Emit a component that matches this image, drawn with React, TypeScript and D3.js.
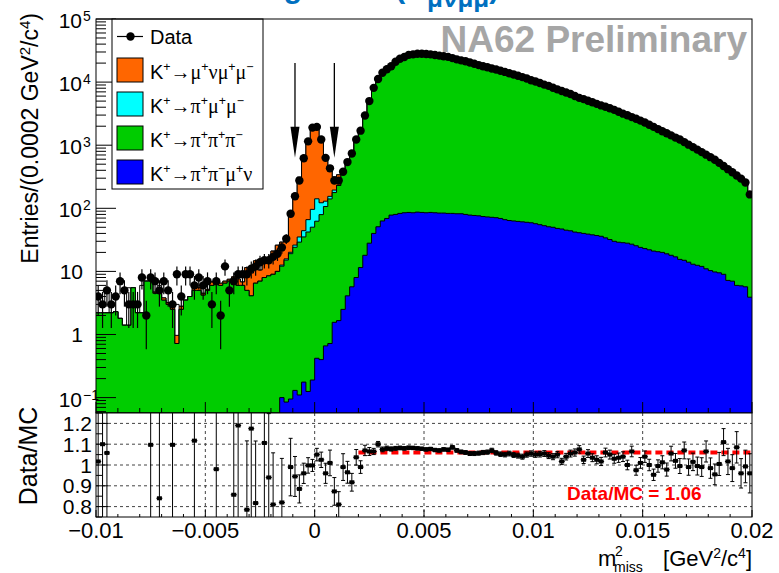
import React from "react";
import * as d3 from "d3";

// ---------------- data ----------------
const X_MIN = -0.01;
const X_MAX = 0.02;
const BIN_W = 0.0002;

const dataCounts = [
  4, 3, 5, 3, 4, 7, 5, 3, 3, 3,
  8, 2, 8, 7, 5, 7, 5, 3, 9, 4,
  9, 9, 6, 8, 6, 7, 3, 7, 2, 12,
  5, 7, 9, 9, 9, 11, 12, 14, 15, 15,
  17, 19, 24, 33, 82, 155, 275, 620, 1150, 1900,
  1950, 1230, 630, 430, 275, 275, 380, 540, 740, 1230,
  1700, 2950, 5000, 8100, 11200, 14100, 16000, 17800, 21000, 23400,
  25000, 27000, 27500, 28200, 28200, 27900, 27500, 26900, 26300, 25700,
  25100, 24000, 22900, 22100, 21400, 20400, 19500, 18600, 17800, 17200,
  16400, 15800, 15100, 14500, 13800, 13200, 12600, 12000, 11400, 10700,
  10200, 9660, 9120, 8710, 8130, 7670, 7240, 6840, 6460, 6030,
  5620, 5370, 5070, 4790, 4520, 4270, 4070, 3850, 3630, 3390,
  3160, 2990, 2790, 2630, 2450, 2290, 2110, 1950, 1800, 1660,
  1550, 1430, 1320, 1230, 1120, 1020, 933, 851, 776, 708,
  646, 589, 525, 468, 417, 372, 331, 295, 257, 166,
];

const ratioVals: (number | null)[] = [
  1.017, 1.1, 1.058, null, null, null, null, null, null, null,
  null, null, 1.097, null, 0.84, null, null, 1.097, null, null,
  null, null, 1.117, null, null, null, null, 0.98, null, null,
  null, 0.857, 1.19, null, 0.785, 1.175, 0.817, null, 1.106, 0.94,
  0.81, null, 0.82, null, 0.99, 0.945, 0.885, 0.96, 0.998, 0.998,
  1.05, 1.025, 0.96, 1.01, 0.873, 0.81, 0.99, 0.965, 0.917, 1.037,
  0.99, 1.07, 1.065, 1.065, 1.1, 1.075, 1.08, 1.077, 1.08, 1.082,
  1.08, 1.083, 1.082, 1.08, 1.078, 1.075, 1.077, 1.072, 1.07, 1.075,
  1.073, 1.085, 1.07, 1.063, 1.06, 1.055, 1.055, 1.057, 1.06, 1.062,
  1.07, 1.058, 1.052, 1.05, 1.055, 1.048, 1.045, 1.04, 1.05, 1.055,
  1.05, 1.052, 1.055, 1.045, 1.04, 1.05, 1.017, 1.04, 1.055, 1.06,
  1.075, 1.025, 1.055, 1.035, 1.025, 1.017, 1.06, 1.05, 1.03, 1.035,
  1.04, 1.0, 1.065, 0.975, 1.01, 1.04, 1.0, 0.953, 0.995, 1.013,
  0.978, 1.055, 1.02, 0.995, 1.07, 0.99, 1.015, 0.995, 0.99, 1.065,
  0.985, 0.955, 1.005, 1.11, 1.017, 0.985, 1.085, 0.96, 0.993, 0.96,
];

// K+ -> pi+ pi- mu+ nu
const bluePiPiMuNu = [
  0, 0, 0, 0, 0, 0, 0, 0, 0, 0,
  0, 0, 0, 0, 0, 0, 0, 0, 0, 0,
  0, 0, 0, 0, 0, 0, 0, 0, 0, 0,
  0, 0, 0, 0, 0, 0, 0, 0, 0, 0,
  0, 0, 0.1, 0.085, 0.095, 0.13, 0.11, 0.176, 0.125, 0.19,
  0.42, 0.4, 0.66, 0.72, 1.56, 1.66, 2.5, 4.1, 5.7, 8,
  11.5, 18, 28, 40, 51, 63, 69, 78, 80, 83,
  85, 86, 85, 87, 86, 85, 86, 85, 84, 84,
  83, 83, 82, 82, 80, 78, 77, 76, 74, 73,
  72, 71, 69, 66, 64, 63, 62, 61, 60, 59,
  57, 55, 53, 51, 50, 48, 47, 45, 44, 42,
  41, 40, 39, 38, 37, 36, 34, 32, 30, 29,
  28.5, 28, 27, 25.5, 24, 23, 22, 21, 20.5, 20,
  19, 18, 17, 15.5, 15, 14, 13, 12.5, 12, 11,
  10.3, 9.8, 9.5, 9, 7.2, 7, 6, 5.9, 5.7, 3.9,
];

// K+ -> pi+ pi+ pi-
const greenPiPiPi = [
  2.2, 2.2, 2.2, 2.2, 2.3, 1.8, 1.4, 1.4, 5.5, 2.2,
  2.2, 7, 7, 4.5, 4.5, 3.5, 3, 2.5, 0.72, 2.5,
  3.5, 4, 5, 5, 4.2, 5, 6, 6.5, 6, 6.5,
  7, 7, 6, 6, 5, 4.1, 6.5, 7, 8, 8.5,
  9, 10, 12, 15, 19, 24, 29, 35, 42, 50,
  62, 79, 106, 140, 176, 228, 378, 556, 801, 1178,
  1705, 2739, 4667, 7566, 10131, 13053, 14746, 16449, 19364, 21544,
  23063, 24845, 25331, 26024, 26074, 25868, 25448, 25008, 24495, 23823,
  23309, 22037, 21320, 20708, 20109, 19258, 18406, 17521, 16718, 16123,
  15255, 14863, 14285, 13744, 13017, 12532, 11995, 11477, 10797, 10083,
  9657, 9128, 8592, 8284, 7767, 7257, 7072, 6532, 6079, 5647,
  5187, 5199, 4767, 4590, 4373, 4163, 3806, 3635, 3494, 3246,
  3010, 2962, 2593, 2672, 2402, 2179, 2088, 2025, 1789, 1619,
  1566, 1337, 1277, 1221, 1032, 1016, 906, 843, 772, 654,
  646, 607, 513, 413, 403, 371, 299, 301, 253, 169,
];

// K+ -> pi+ mu+ mu-
const cyanPiMuMu = [
  0, 0, 0, 0, 0, 0, 0, 0, 0, 0,
  0, 0, 0, 0, 0, 0, 0, 0, 0, 0,
  0, 0, 0, 0, 0, 0, 0, 0, 0, 0,
  0, 0, 0, 0, 0, 0, 0, 0, 0, 0,
  0, 0, 0.5, 0.7, 1, 2, 6, 9, 24, 46,
  79, 43, 23, 14, 17, 3, 1, 0, 0, 0,
  0, 0, 0, 0, 0, 0, 0, 0, 0, 0,
  0, 0, 0, 0, 0, 0, 0, 0, 0, 0,
  0, 0, 0, 0, 0, 0, 0, 0, 0, 0,
  0, 0, 0, 0, 0, 0, 0, 0, 0, 0,
  0, 0, 0, 0, 0, 0, 0, 0, 0, 0,
  0, 0, 0, 0, 0, 0, 0, 0, 0, 0,
  0, 0, 0, 0, 0, 0, 0, 0, 0, 0,
  0, 0, 0, 0, 0, 0, 0, 0, 0, 0,
  0, 0, 0, 0, 0, 0, 0, 0, 0, 0,
];

// K+ -> mu+ nu mu+ mu-
const orangeMuNuMuMu = [
  0, 0, 0, 0, 0, 0, 0, 0, 0, 0,
  0, 0, 0, 0.2, 0, 0.3, 0.2, 0.2, 0.25, 0.3,
  0, 0, 0.4, 0.5, 0.3, 0.2, 0.8, 0.6, 0.5, 0.5,
  0.5, 1.2, 1.6, 0.8, 6.5, 5.3, 8.2, 3.5, 5.6, 7.5,
  12, 16, 16.5, 17, 63, 138, 276, 602, 1084, 1804,
  1715, 1077, 526, 271, 120, 107, 0, 0, 0, 0,
  0, 0, 0, 0, 0, 0, 0, 0, 0, 0,
  0, 0, 0, 0, 0, 0, 0, 0, 0, 0,
  0, 0, 0, 0, 0, 0, 0, 0, 0, 0,
  0, 0, 0, 0, 0, 0, 0, 0, 0, 0,
  0, 0, 0, 0, 0, 0, 0, 0, 0, 0,
  0, 0, 0, 0, 0, 0, 0, 0, 0, 0,
  0, 0, 0, 0, 0, 0, 0, 0, 0, 0,
  0, 0, 0, 0, 0, 0, 0, 0, 0, 0,
  0, 0, 0, 0, 0, 0, 0, 0, 0, 0,
];

// other (white-filled) MC contribution
const otherMC = [
  1.7, 0.5, 2.5, 0, 0, 0, 0, 4.1, 0, 0,
  3.8, 0, 0.3, 0, 1.5, 0, 0, 0, 2.03, 0,
  0, 0, 0, 0, 0, 0, 0, 0, 0, 0,
  0, 0, 0, 0, 0, 0, 0, 0, 0, 0,
  0, 0, 0, 0, 0, 0, 0, 0, 0, 0,
  0, 0, 0, 0, 0, 0, 0, 0, 0, 0,
  0, 0, 0, 0, 0, 0, 0, 0, 0, 0,
  0, 0, 0, 0, 0, 0, 0, 0, 0, 0,
  0, 0, 0, 0, 0, 0, 0, 0, 0, 0,
  0, 0, 0, 0, 0, 0, 0, 0, 0, 0,
  0, 0, 0, 0, 0, 0, 0, 0, 0, 0,
  0, 0, 0, 0, 0, 0, 0, 0, 0, 0,
  0, 0, 0, 0, 0, 0, 0, 0, 0, 0,
  0, 0, 0, 0, 0, 0, 0, 0, 0, 0,
  0, 0, 0, 0, 0, 0, 0, 0, 0, 0,
];

const arrowCuts = [-0.0009, 0.0009];
const arrowTop = 20000;
const arrowTip = 630;
const fitValue = 1.06;
const fitRange = [0.002, 0.02];

const xTicks = [-0.01, -0.005, 0, 0.005, 0.01, 0.015, 0.02];
const xTickLabels = ["\u22120.01", "\u22120.005", "0", "0.005", "0.01", "0.015", "0.02"];
const ratioTicks = [0.8, 0.9, 1.0, 1.1, 1.2];
const ratioTickLabels = ["0.8", "0.9", "1", "1.1", "1.2"];

type Seg = [string, "n" | "g" | "sup"];
const legendEntries: { color: string; segs: Seg[] }[] = [
  { color: "#ff6600", segs: [["K", "n"], ["+", "sup"], ["\u2192", "g"], ["\u03bc", "g"], ["+", "sup"], ["\u03bd", "g"], ["\u03bc", "g"], ["+", "sup"], ["\u03bc", "g"], ["\u2212", "sup"]] },
  { color: "#00ffff", segs: [["K", "n"], ["+", "sup"], ["\u2192", "g"], ["\u03c0", "g"], ["+", "sup"], ["\u03bc", "g"], ["+", "sup"], ["\u03bc", "g"], ["\u2212", "sup"]] },
  { color: "#00cc00", segs: [["K", "n"], ["+", "sup"], ["\u2192", "g"], ["\u03c0", "g"], ["+", "sup"], ["\u03c0", "g"], ["+", "sup"], ["\u03c0", "g"], ["\u2212", "sup"]] },
  { color: "#0000ff", segs: [["K", "n"], ["+", "sup"], ["\u2192", "g"], ["\u03c0", "g"], ["+", "sup"], ["\u03c0", "g"], ["\u2212", "sup"], ["\u03bc", "g"], ["+", "sup"], ["\u03bd", "g"]] },
];

// ---------------- layout ----------------
const W = 779;
const H = 573;
const L = 96;
const R = 752;
const T = 19;
const MB = 413;
const RB = 517;
const SANS = "'Liberation Sans', Arial, sans-serif";
const SERIF = "'Liberation Serif', 'Times New Roman', serif";

function RichText({ x, y, segs, size, anchor }: { x: number; y: number; segs: Seg[]; size: number; anchor?: string }) {
  const out: React.ReactNode[] = [];
  let raised = false;
  const up = size * 0.42;
  segs.forEach(([t, k], i) => {
    let dy = 0;
    if (k === "sup" && !raised) { dy = -up; raised = true; }
    else if (k !== "sup" && raised) { dy = up; raised = false; }
    out.push(
      <tspan key={i} dy={dy} fontSize={k === "sup" ? size * 0.62 : size} fontFamily={k === "g" ? SERIF : SANS}>{t}</tspan>
    );
  });
  return <text x={x} y={y} textAnchor={anchor || "start"} fontSize={size} fontFamily={SANS}>{out}</text>;
}

export default function App() {
  const x = d3.scaleLinear().domain([X_MIN, X_MAX]).range([L, R]);
  const yMin = 0.057;
  const y = d3.scaleLog().domain([yMin, 1e5]).range([MB, T]).clamp(true);
  const yr = d3.scaleLinear().domain([0.75, 1.25]).range([RB, MB]);
  const n = dataCounts.length;

  const cum: number[][] = [];
  const comps = [bluePiPiMuNu, greenPiPiPi, cyanPiMuMu, orangeMuNuMuMu, otherMC];
  let run = new Array(n).fill(0);
  comps.forEach((c) => {
    run = run.map((v, i) => v + c[i]);
    cum.push(run.slice());
  });
  const fills = ["#0000ff", "#00cc00", "#00ffff", "#ff6600", "#ffffff"];

  const stepPts = (vals: number[]) => {
    const pts: [number, number][] = [];
    vals.forEach((v, i) => {
      const x0 = x(X_MIN + i * BIN_W);
      const x1 = x(X_MIN + (i + 1) * BIN_W);
      const yy = v > yMin ? y(v) : MB;
      pts.push([x0, yy], [x1, yy]);
    });
    return pts;
  };
  const area = d3.area<[number, number]>().x((d) => d[0]).y0(MB).y1((d) => d[1]);
  const line = d3.line<[number, number]>().x((d) => d[0]).y((d) => d[1]);

  const binC = (i: number) => x(X_MIN + (i + 0.5) * BIN_W);

  // ticks
  const yMajors = [0.1, 1, 10, 100, 1000, 10000, 100000];
  const yMinors: number[] = [];
  for (let e = -2; e <= 4; e++) for (let k = 2; k <= 9; k++) { const v = k * Math.pow(10, e); if (v > yMin && v < 1e5) yMinors.push(v); }
  const xMinorTicks = d3.range(0, 31).map((k) => X_MIN + k * 0.001);
  const ratioMinor = d3.range(0, 11).map((k) => 0.75 + k * 0.05);

  const yLabel = (v: number) => {
    const ty = y(v);
    if (v === 1 || v === 10) {
      return <text key={v} x={83} y={ty + 8} textAnchor="end" fontSize={21} fontFamily={SANS}>{v}</text>;
    }
    const e = Math.round(Math.log10(v));
    const es = e < 0 ? "\u2212" + Math.abs(e) : String(e);
    return (
      <g key={v}>
        <text x={82} y={ty + 9} textAnchor="end" fontSize={21} fontFamily={SANS}>10</text>
        <text x={83} y={ty + 2} textAnchor="start" fontSize={14} fontFamily={SANS}>{es}</text>
      </g>
    );
  };

  return (
    <svg width={W} height={H} style={{ position: "absolute", left: 0, top: 0, background: "#fff" }} xmlns="http://www.w3.org/2000/svg">
      <defs>
        <clipPath id="mainClip"><rect x={L} y={T} width={R - L} height={MB - T} /></clipPath>
        <clipPath id="ratioClip"><rect x={L} y={MB} width={R - L} height={RB - MB} /></clipPath>
      </defs>
      <rect x={0} y={0} width={W} height={H} fill="#fff" />

      {/* cut-off slide title (only its lowest parts fall inside the picture) */}
      <text x={212} y={-2} fontSize={30} fontWeight="bold" fill="#0070c0" fontFamily={SANS}>
        Background (K<tspan fontSize={26} dy={9}>{"\u03bc\u03bd\u03bc\u03bc"}</tspan><tspan dy={-9}>)</tspan>
      </text>

      {/* stacked MC */}
      <g clipPath="url(#mainClip)">
        {[4, 3, 2, 1, 0].map((k) => {
          const pts = stepPts(cum[k]);
          return (
            <g key={k}>
              <path d={area(pts) || ""} fill={fills[k]} />
              <path d={line(pts) || ""} fill="none" stroke="#000" strokeWidth={1} />
            </g>
          );
        })}
        {/* data error bars */}
        {dataCounts.map((c, i) => {
          const e = Math.sqrt(c);
          return <line key={i} x1={binC(i)} x2={binC(i)} y1={y(Math.max(c - e, yMin))} y2={y(c + e)} stroke="#000" strokeWidth={1.2} />;
        })}
        {dataCounts.map((c, i) => (
          <circle key={i} cx={binC(i)} cy={y(c)} r={4.2} fill="#000" />
        ))}
      </g>

      {/* arrows */}
      {arrowCuts.map((m, i) => {
        const ax = x(m);
        const yt = y(arrowTop);
        const yb = y(arrowTip);
        return (
          <g key={i}>
            <line x1={ax} x2={ax} y1={yt} y2={yb - 20} stroke="#000" strokeWidth={1.3} />
            <path d={`M${ax - 4.5},${yb - 31} L${ax + 4.5},${yb - 31} L${ax},${yb} Z`} fill="#000" />
          </g>
        );
      })}

      {/* main axes ticks */}
      {yMajors.map((v) => <line key={"ym" + v} x1={L} x2={L + 20} y1={y(v)} y2={y(v)} stroke="#000" strokeWidth={1} />)}
      {yMinors.map((v) => <line key={"yn" + v} x1={L} x2={L + 10} y1={y(v)} y2={y(v)} stroke="#000" strokeWidth={1} />)}
      {xMinorTicks.map((v, k) => (
        <line key={"xm" + k} x1={x(v)} x2={x(v)} y1={MB} y2={MB - (k % 5 === 0 ? 11 : 5)} stroke="#000" strokeWidth={1} />
      ))}
      {yMajors.map(yLabel)}

      {/* NA62 label */}
      <text x={747} y={52} textAnchor="end" fontSize={37} fontWeight="bold" fill="#a6a6a6" fontFamily={SANS}>NA62 Preliminary</text>

      {/* legend */}
      <rect x={112} y={T} width={151} height={170} fill="#fff" stroke="#000" strokeWidth={1} />
      <line x1={117} x2={143} y1={36.5} y2={36.5} stroke="#000" strokeWidth={1.2} />
      <circle cx={130.5} cy={36.5} r={4.2} fill="#000" />
      <text x={150} y={44} fontSize={20} fontFamily={SANS}>Data</text>
      {legendEntries.map((e, i) => (
        <g key={i}>
          <rect x={117} y={58 + i * 34} width={26} height={24} fill={e.color} stroke="#000" strokeWidth={1} />
          <RichText x={150} y={79 + i * 34} segs={e.segs} size={20} />
        </g>
      ))}

      {/* main frame */}
      <rect x={L} y={T} width={R - L} height={MB - T} fill="none" stroke="#000" strokeWidth={1} />

      {/* y title */}
      <text transform={`translate(38,13) rotate(-90)`} textAnchor="end" fontSize={23} fontFamily={SANS}>
        Entries/(0.0002 GeV<tspan dy={-8} fontSize={15}>2</tspan><tspan dy={8}>/c</tspan><tspan dy={-8} fontSize={15}>4</tspan><tspan dy={8}>)</tspan>
      </text>

      {/* ratio panel */}
      <rect x={L} y={MB} width={R - L} height={RB - MB} fill="#fff" />
      {ratioTicks.map((v) => (
        <line key={"rg" + v} x1={L} x2={R} y1={yr(v)} y2={yr(v)} stroke="#444" strokeWidth={1} strokeDasharray="3,3" />
      ))}
      {[-0.005, 0, 0.005, 0.01, 0.015].map((v) => (
        <line key={"vg" + v} x1={x(v)} x2={x(v)} y1={MB} y2={RB} stroke="#444" strokeWidth={1} strokeDasharray="3,3" />
      ))}
      <line x1={x(fitRange[0])} x2={x(fitRange[1])} y1={yr(fitValue)} y2={yr(fitValue)} stroke="#ff0000" strokeWidth={4} strokeDasharray="7,4" />
      <g clipPath="url(#ratioClip)">
        {ratioVals.map((r, i) => {
          if (r === null || r < 0.75 || r > 1.25) return null;
          const err = r * Math.sqrt(1.6 / dataCounts[i]);
          const cx = binC(i);
          const y1 = yr(r - err);
          const y2 = yr(r + err);
          return (
            <g key={i}>
              <line x1={cx} x2={cx} y1={y1} y2={y2} stroke="#000" strokeWidth={1} />
              <line x1={cx - 2} x2={cx + 2} y1={y1} y2={y1} stroke="#000" strokeWidth={1} />
              <line x1={cx - 2} x2={cx + 2} y1={y2} y2={y2} stroke="#000" strokeWidth={1} />
              <line x1={cx - 3} x2={cx + 3} y1={yr(r)} y2={yr(r)} stroke="#000" strokeWidth={1} />
              <rect x={cx - 2.5} y={yr(r) - 2} width={5} height={4} fill="#000" />
            </g>
          );
        })}
      </g>
      {ratioMinor.map((v, k) => (
        <line key={"rt" + k} x1={L} x2={L + (k % 2 === 1 ? 12 : 6)} y1={yr(v)} y2={yr(v)} stroke="#000" strokeWidth={1} />
      ))}
      {xMinorTicks.map((v, k) => (
        <line key={"rx" + k} x1={x(v)} x2={x(v)} y1={RB} y2={RB - (k % 5 === 0 ? 7 : 3)} stroke="#000" strokeWidth={1} />
      ))}
      <rect x={L} y={MB} width={R - L} height={RB - MB} fill="none" stroke="#000" strokeWidth={1} />
      {ratioTicks.map((v, i) => (
        <text key={"rl" + v} x={92} y={yr(v) + 7.5} textAnchor="end" fontSize={21} fontFamily={SANS}>{ratioTickLabels[i]}</text>
      ))}
      <text x={567} y={500} fontSize={19} fontWeight="bold" fill="#ff0000" fontFamily={SANS}>Data/MC = 1.06</text>
      <text transform={`translate(37,456) rotate(-90)`} textAnchor="middle" fontSize={25} fontFamily={SANS}>Data/MC</text>

      {/* x labels */}
      {xTicks.map((v, i) => (
        <text key={"xl" + v} x={x(v)} y={538} textAnchor="middle" fontSize={22} fontFamily={SANS}>{xTickLabels[i]}</text>
      ))}
      <text x={598} y={566} fontSize={22} fontFamily={SANS}>m</text>
      <text x={615} y={556} fontSize={14} fontFamily={SANS}>2</text>
      <text x={614} y={572} fontSize={14} fontFamily={SANS}>miss</text>
      <text x={752} y={566} textAnchor="end" fontSize={22} fontFamily={SANS}>
        [GeV<tspan dy={-8} fontSize={14}>2</tspan><tspan dy={8}>/c</tspan><tspan dy={-8} fontSize={14}>4</tspan><tspan dy={8}>]</tspan>
      </text>
    </svg>
  );
}
